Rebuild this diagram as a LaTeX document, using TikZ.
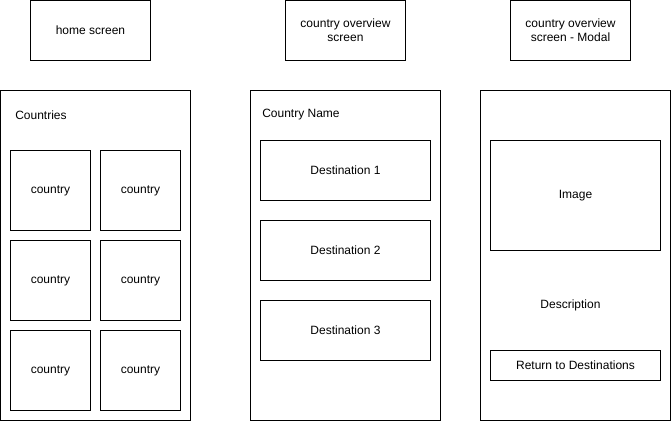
\documentclass[tikz,border=0pt]{standalone}
\usepackage{fontspec}
\setmainfont{Liberation Sans}
\begin{document}
\begin{tikzpicture}[x=0.75pt,y=-0.75pt,
  every node/.style={inner sep=0pt,font=\fontsize{9}{10.5}\selectfont,align=center},
  rbox/.style 2 args={draw=black,line width=0.75pt,rectangle,minimum width=#1*0.75pt,minimum height=#2*0.75pt}]
\useasboundingbox (0,0) rectangle (671,421);
% title boxes
\node[rbox={120}{60}] (t1) at (90.5,30.5) {home screen};
\node[rbox={120}{60}] (t2) at (345.5,30.5) {country overview\\screen};
\node[rbox={120}{60}] (t3) at (570.5,30.5) {country overview\\screen - Modal};
% screen 1
\node[rbox={190}{330}] (s1) at (95.5,255.5) {};
\node[anchor=west] (c0) at (15,115) {Countries};
\foreach \r/\y in {1/190.5,2/280.5,3/370.5}{
  \foreach \c/\x in {1/50.5,2/140.5}{
    \node[rbox={80}{80}] (c\r\c) at (\x,\y) {country};
  }
}
% screen 2
\node[rbox={190}{330}] (s2) at (345.5,255.5) {};
\node[anchor=west] (cn) at (262,115) {Country Name};
\foreach \i/\y in {1/170.5,2/250.5,3/330.5}{
  \node[rbox={170}{60}] (d\i) at (345.5,\y) {Destination \i};
}
% screen 3
\node[rbox={190}{330}] (s3) at (575.5,255.5) {};
\node[rbox={170}{110}] (img) at (575.5,195.5) {Image};
\node (desc) at (570.5,305) {Description};
\node[rbox={170}{30}] (ret) at (575.5,365.5) {Return to Destinations};
\end{tikzpicture}
\end{document}
